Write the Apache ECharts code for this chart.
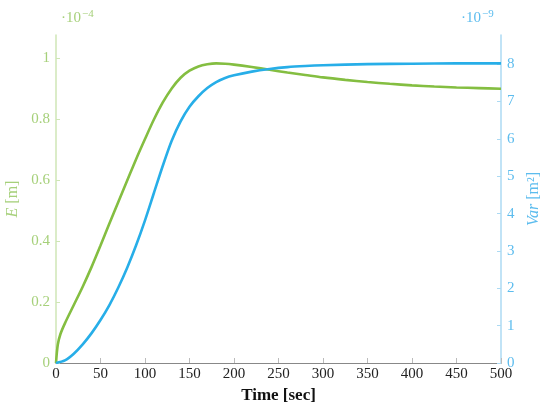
<!DOCTYPE html>
<html>
<head>
<meta charset="utf-8">
<script src="https://cdn.jsdelivr.net/npm/echarts@6/dist/echarts.min.js"></script>
<style>html,body{margin:0;padding:0;background:#fff}#c{width:550px;height:409px}</style>
</head>
<body>
<div id="c"></div>
<script>
// Time [sec] sample points
var timeE = [0, 2, 5, 10, 20, 30, 40, 50, 60, 70, 80, 90, 100, 110, 120, 130, 140, 150, 160, 170, 180, 190, 200, 220, 240, 260, 280, 300, 325, 350, 375, 400, 425, 450, 475, 500];
// E [m] in units of 1e-4
var eValues = [0, 0.06, 0.095, 0.13, 0.19, 0.25, 0.315, 0.385, 0.457, 0.528, 0.598, 0.668, 0.734, 0.798, 0.854, 0.9, 0.935, 0.958, 0.972, 0.979, 0.982, 0.981, 0.978, 0.97, 0.961, 0.952, 0.944, 0.936, 0.928, 0.921, 0.915, 0.91, 0.906, 0.903, 0.901, 0.899];

var timeVar = [0, 10, 20, 30, 40, 50, 60, 70, 80, 90, 100, 110, 120, 130, 140, 150, 160, 170, 180, 190, 200, 220, 240, 260, 280, 300, 350, 400, 450, 500];
// Var [m^2] in units of 1e-9
var varValues = [0, 0.07, 0.25, 0.5, 0.8, 1.15, 1.55, 2.02, 2.55, 3.15, 3.82, 4.55, 5.28, 5.95, 6.47, 6.86, 7.14, 7.36, 7.52, 7.63, 7.7, 7.8, 7.87, 7.92, 7.95, 7.97, 8.0, 8.01, 8.02, 8.02];

var xTicks = [0, 50, 100, 150, 200, 250, 300, 350, 400, 450, 500];
var eTicks = [0, 0.2, 0.4, 0.6, 0.8, 1];
var varTicks = [0, 1, 2, 3, 4, 5, 6, 7, 8];

var green = '#84be41', greenLight = '#a6d07a', greenAxis = '#cfe6b6';
var blue = '#27aee8', blueLight = '#5cbcee', blueAxis = '#acdaf3';
var serif = '"Liberation Serif", "DejaVu Serif", serif';

function zip(a, b) { return a.map(function (t, i) { return [t, b[i]]; }); }

var chart = echarts.init(document.getElementById('c'));
chart.setOption({
  animation: false,
  grid: { left: 56, right: 49, top: 35, bottom: 46, containLabel: false, outerBoundsMode: 'none' },
  xAxis: {
    type: 'value', min: 0, max: 500, interval: 50,
    name: 'Time [sec]', nameLocation: 'middle', nameGap: 22,
    nameTextStyle: { fontFamily: serif, fontSize: 17, fontWeight: 'bold', color: '#111' },
    axisLine: { show: true, lineStyle: { color: '#888', width: 1.2 } },
    axisTick: { show: true, inside: true, length: 5, lineStyle: { color: '#bbb' }, customValues: xTicks },
    axisLabel: { fontFamily: serif, fontSize: 15, color: '#222', margin: 4, customValues: xTicks },
    splitLine: { show: false }
  },
  yAxis: [{
    type: 'value', position: 'left', min: 0, max: 1.075,
    name: '{i|E} [m]', nameLocation: 'middle', nameGap: 32, nameRotate: 90,
    nameTextStyle: { fontFamily: serif, fontSize: 16, color: greenLight, rich: { i: { fontStyle: 'italic', fontFamily: serif, fontSize: 16, color: greenLight } } },
    axisLine: { show: true, lineStyle: { color: greenAxis, width: 1.5 } },
    axisTick: { show: true, inside: true, length: 4, lineStyle: { color: greenAxis }, customValues: eTicks },
    axisLabel: { fontFamily: serif, fontSize: 15, color: greenLight, margin: 6, customValues: eTicks },
    splitLine: { show: false }
  }, {
    type: 'value', position: 'right', min: 0, max: 8.78,
    name: '{i|Var} [m²]', nameLocation: 'middle', nameGap: 24, nameRotate: 90,
    nameTextStyle: { fontFamily: serif, fontSize: 16, color: blueLight, rich: { i: { fontStyle: 'italic', fontFamily: serif, fontSize: 16, color: blueLight } } },
    axisLine: { show: true, lineStyle: { color: blueAxis, width: 1.5 } },
    axisTick: { show: true, inside: true, length: 4, lineStyle: { color: blueAxis }, customValues: varTicks },
    axisLabel: { fontFamily: serif, fontSize: 15, color: blueLight, margin: 6, customValues: varTicks },
    splitLine: { show: false }
  }],
  graphic: [
    { type: 'text', left: 61, top: 11, style: { text: '·10', font: '15px ' + serif, fill: greenLight } },
    { type: 'text', left: 82, top: 9, style: { text: '−4', font: '11px ' + serif, fill: greenLight } },
    { type: 'text', left: 461, top: 11, style: { text: '·10', font: '15px ' + serif, fill: blueLight } },
    { type: 'text', left: 482, top: 9, style: { text: '−9', font: '11px ' + serif, fill: blueLight } }
  ],
  series: [{
    type: 'line', yAxisIndex: 0, data: zip(timeE, eValues),
    showSymbol: false, smooth: 0.3,
    lineStyle: { color: green, width: 2.6 }, itemStyle: { color: green }
  }, {
    type: 'line', yAxisIndex: 1, data: zip(timeVar, varValues),
    showSymbol: false, smooth: 0.3,
    lineStyle: { color: blue, width: 2.6 }, itemStyle: { color: blue }
  }]
});
</script>
</body>
</html>
